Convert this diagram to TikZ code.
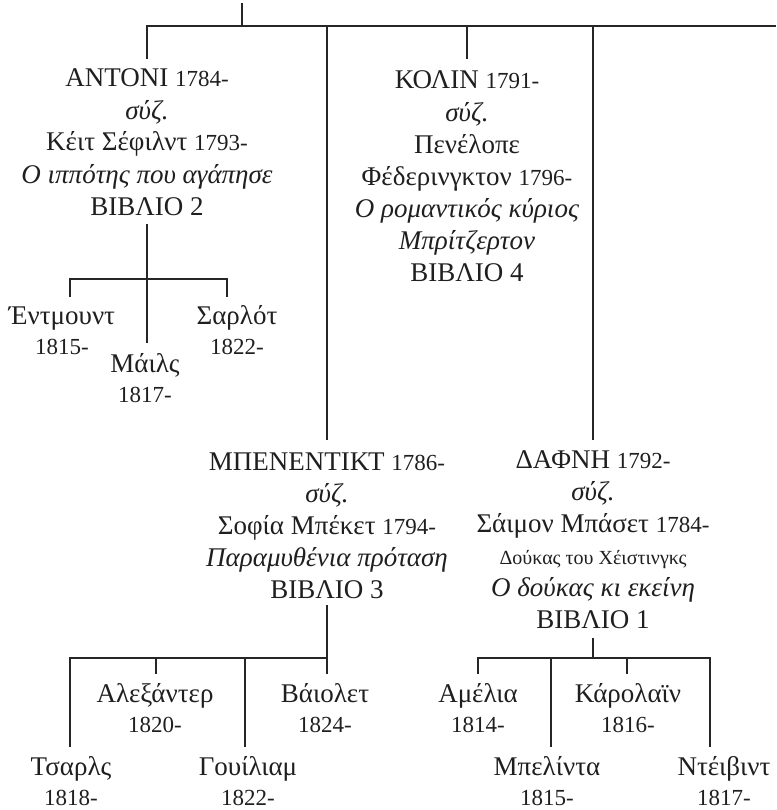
\documentclass[tikz,border=0pt]{standalone}
\usepackage{fontspec}
\setmainfont{Liberation Serif}
\newcommand{\yr}[1]{{\fontsize{23}{23}\selectfont #1}}
\newcommand{\smalltitle}[1]{{\fontsize{20}{20}\selectfont #1}}
\begin{document}
\begin{tikzpicture}[x=1pt,y=-1pt,
  ln/.style={line width=2.6pt, draw=black!85},
  blk/.style={align=center, font=\fontsize{27}{32}\selectfont, inner sep=0pt, text=black!88, anchor=base},
  kid/.style={align=center, font=\fontsize{27}{30}\selectfont, inner sep=0pt, text=black!88, anchor=base}]
\useasboundingbox (0,0) rectangle (776,810);
% blocks (anchor base = baseline of the last line)
\node[blk] (antoni) at (147,215) {ΑΝΤΟΝΙ \yr{1784-}\\\textit{σύζ.}\\Κέιτ Σέφιλντ \yr{1793-}\\\textit{Ο ιππότης που αγάπησε}\\ΒΙΒΛΙΟ 2};
\node[blk] (colin) at (467,281) {ΚΟΛΙΝ \yr{1791-}\\\textit{σύζ.}\\Πενέλοπε\\Φέδερινγκτον \yr{1796-}\\\textit{Ο ρομαντικός κύριος}\\\textit{Μπρίτζερτον}\\ΒΙΒΛΙΟ 4};
\node[blk] (benedict) at (327,598) {ΜΠΕΝΕΝΤΙΚΤ \yr{1786-}\\\textit{σύζ.}\\Σοφία Μπέκετ \yr{1794-}\\\textit{Παραμυθένια πρόταση}\\ΒΙΒΛΙΟ 3};
\node[blk] (daphne) at (593,628) {ΔΑΦΝΗ \yr{1792-}\\\textit{σύζ.}\\Σάιμον Μπάσετ \yr{1784-}\\\smalltitle{Δούκας του Χέιστινγκς}\\\textit{Ο δούκας κι εκείνη}\\ΒΙΒΛΙΟ 1};
% children
\node[kid] (edmund) at (62,354) {Έντμουντ\\\yr{1815-}};
\node[kid] (miles) at (145,402) {Μάιλς\\\yr{1817-}};
\node[kid] (charlotte) at (237,354) {Σαρλότ\\\yr{1822-}};
\node[kid] (charles) at (71,805) {Τσαρλς\\\yr{1818-}};
\node[kid] (alexander) at (155,732) {Αλεξάντερ\\\yr{1820-}};
\node[kid] (william) at (248,805) {Γουίλιαμ\\\yr{1822-}};
\node[kid] (violet) at (325,732) {Βάιολετ\\\yr{1824-}};
\node[kid] (amelia) at (478,732) {Αμέλια\\\yr{1814-}};
\node[kid] (belinda) at (547,805) {Μπελίντα\\\yr{1815-}};
\node[kid] (caroline) at (628,732) {Κάρολαϊν\\\yr{1816-}};
\node[kid] (david) at (724,805) {Ντέιβιντ\\\yr{1817-}};
% junction coordinates
\coordinate (root) at (242,3);
\coordinate (rootbar) at (242,26);
\coordinate (barend) at (776,26);
\coordinate (a-in) at (147,59);
\coordinate (c-in) at (467,59);
\coordinate (b-in) at (327,440);
\coordinate (d-in) at (593,440);
\coordinate (a-out) at (147,224);
\coordinate (a-bar) at (147,279);
\coordinate (e-in) at (70,297);
\coordinate (m-in) at (147,343);
\coordinate (s-in) at (227,297);
\coordinate (b-out) at (327,605);
\coordinate (b-bar) at (327,658);
\coordinate (ch-in) at (70,747);
\coordinate (al-in) at (156,674);
\coordinate (w-in) at (245,747);
\coordinate (v-in) at (327,674);
\coordinate (d-out) at (593,638);
\coordinate (d-bar) at (593,658);
\coordinate (am-in) at (478,674);
\coordinate (be-in) at (551,747);
\coordinate (ca-in) at (627,674);
\coordinate (da-in) at (710,747);
% connectors
\draw[ln] (root) -- (rootbar);
\draw[ln] (a-in) |- (barend);
\draw[ln] (b-in) -- (b-in |- rootbar);
\draw[ln] (c-in) -- (c-in |- rootbar);
\draw[ln] (d-in) -- (d-in |- rootbar);
\draw[ln] (a-out) -- (m-in);
\draw[ln] (e-in) |- (a-bar) -| (s-in);
\draw[ln] (b-out) -- (b-bar);
\draw[ln] (ch-in) |- (b-bar) -- (v-in);
\draw[ln] (al-in) -- (al-in |- b-bar);
\draw[ln] (w-in) -- (w-in |- b-bar);
\draw[ln] (d-out) -- (d-bar);
\draw[ln] (am-in) |- (d-bar) -| (da-in);
\draw[ln] (be-in) -- (be-in |- d-bar);
\draw[ln] (ca-in) -- (ca-in |- d-bar);
\end{tikzpicture}
\end{document}
